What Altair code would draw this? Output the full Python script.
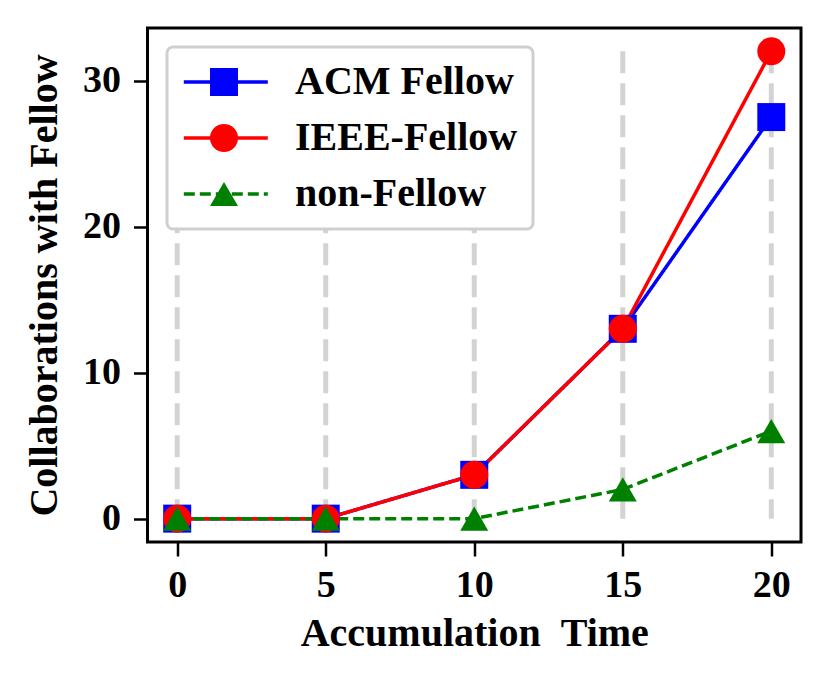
import altair as alt
import pandas as pd

# ---- data ----
time = [0, 5, 10, 15, 20]
acm = [0, 0, 3, 13, 27.5]
ieee = [0, 0, 3, 13, 32]
non_fellow = [0, 0, 0, 2, 6]
series_names = ["ACM Fellow", "IEEE-Fellow", "non-Fellow"]
series_colors = ["#0000ff", "#ff0000", "#008000"]
series_shapes = ["square", "circle", "triangle-up"]
series_dashes = [[1, 0], [1, 0], [11, 5]]
x_ticks = [0, 5, 10, 15, 20]
y_ticks = [0, 10, 20, 30]

rows = []
for name, vals in zip(series_names, [acm, ieee, non_fellow]):
    for t, v in zip(time, vals):
        rows.append({"time": t, "value": v, "series": name})
df = pd.DataFrame(rows)

grid_top = max(acm + ieee + non_fellow)
grid_df = pd.DataFrame({"time": time,
                        "top": [grid_top] * len(time),
                        "bottom": [0] * len(time)})

FONT = "Liberation Serif"

x_scale = alt.Scale(domain=[-1, 21], nice=False, zero=False)
y_scale = alt.Scale(domain=[-1.6, 33.6], nice=False, zero=False)

x_axis = alt.Axis(values=x_ticks, title="Accumulation\u00a0\u00a0Time", grid=False,
                  domain=False, tickSize=14, tickWidth=2.5, tickColor="black",
                  labelFontSize=38, labelPadding=10, titleFontSize=40,
                  titlePadding=9, format="d")
y_axis = alt.Axis(values=y_ticks, title="Collaborations with Fellow", grid=False,
                  domain=False, tickSize=14, tickWidth=2.5, tickColor="black",
                  labelFontSize=38, labelPadding=13, titleFontSize=40,
                  titlePadding=18, format="d")

# legend line symbol: a horizontal stroke, offset so the marker sits at its middle
LINE_SYMBOL = "M-1.3,0H4.7"

line_legend = alt.Legend(orient="none", legendX=19.5, legendY=19, title=None,
                         symbolType=LINE_SYMBOL, symbolSize=784, symbolStrokeWidth=3.5,
                         labelFont=FONT, labelFontSize=40, labelFontWeight="bold",
                         labelColor="black", labelOffset=73, rowPadding=16,
                         padding=15, fillColor="white", strokeColor="#cfcfcf",
                         cornerRadius=6, labelLimit=400)

marker_legend = alt.Legend(orient="none", legendX=41.5, legendY=19, title=None,
                           symbolSize=784, symbolStrokeWidth=0,
                           labelFont=FONT, labelFontSize=40, labelFontWeight="bold",
                           labelExpr="''", labelOffset=73, rowPadding=16,
                           padding=15, labelLimit=400)

grid = alt.Chart(grid_df).mark_rule(color="#d3d3d3", strokeWidth=5,
                                    strokeDash=[22, 10]).encode(
    x=alt.X("time:Q", scale=x_scale, axis=x_axis),
    y=alt.Y("top:Q", scale=y_scale, axis=y_axis),
    y2="bottom:Q",
)

lines = alt.Chart(df).mark_line(strokeWidth=3.5).encode(
    x=alt.X("time:Q", scale=x_scale, axis=x_axis),
    y=alt.Y("value:Q", scale=y_scale, axis=y_axis),
    color=alt.Color("series:N", scale=alt.Scale(range=series_colors), legend=line_legend),
    strokeDash=alt.StrokeDash("series:N", scale=alt.Scale(range=series_dashes),
                              legend=line_legend),
)

points = alt.Chart(df).transform_calculate(marker="datum.series").mark_point(
    filled=True, size=784, opacity=1, strokeWidth=0).encode(
    x=alt.X("time:Q", scale=x_scale, axis=x_axis),
    y=alt.Y("value:Q", scale=y_scale, axis=y_axis),
    fill=alt.Fill("marker:N", scale=alt.Scale(range=series_colors), legend=marker_legend),
    shape=alt.Shape("marker:N", scale=alt.Scale(range=series_shapes), legend=marker_legend),
)

chart = alt.layer(grid, lines, points).properties(
    width=653.5, height=514,
    autosize=alt.AutoSizeParams(type="none"),
    padding={"left": 139.5, "top": 20, "right": 22, "bottom": 130},
).configure(
    background="white", font=FONT
).configure_view(
    stroke="black", strokeWidth=3
).configure_axis(
    labelFont=FONT, titleFont=FONT, labelFontWeight="bold", titleFontWeight="bold",
    labelColor="black", titleColor="black"
).configure_legend(
    strokeWidth=3
)

chart.save("out.html", embed_options={"renderer": "svg", "actions": False})
